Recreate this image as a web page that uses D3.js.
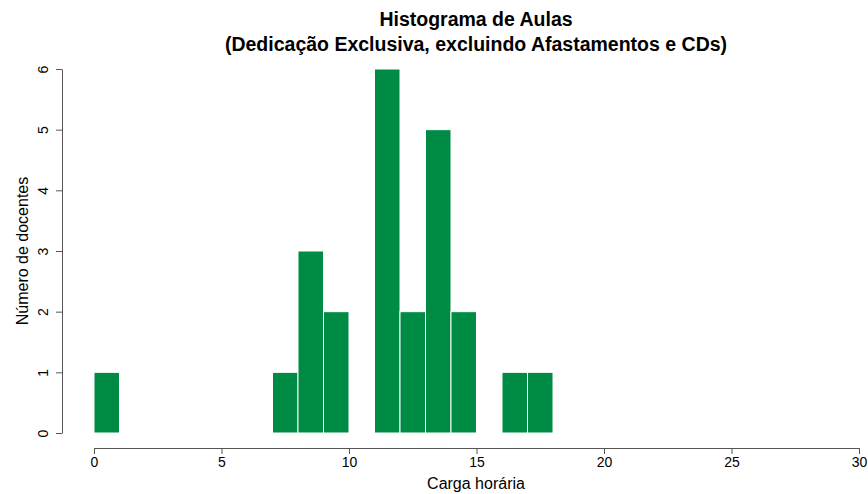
<!DOCTYPE html>
<html>
<head>
<meta charset="utf-8">
<script src="https://cdn.jsdelivr.net/npm/d3@7"></script>
<style>
  body { margin: 0; background: #fff; }
  text { font-family: "Liberation Sans", Arial, sans-serif; fill: #000; }
</style>
</head>
<body>
<div id="chart"></div>
<script>
// Histogram bins (lower edge, upper edge) and counts
const binStart = [0, 7, 8, 9, 11, 12, 13, 14, 16, 17];
const binEnd   = [1, 8, 9, 10, 12, 13, 14, 15, 17, 18];
const counts   = [1, 1, 3, 2, 6, 2, 5, 2, 1, 1];
const xTicks = [0, 5, 10, 15, 20, 25, 30];
const yTicks = [0, 1, 2, 3, 4, 5, 6];

const W = 868, H = 494;
const svg = d3.select("#chart").append("svg")
    .attr("width", W)
    .attr("height", H);

const x = d3.scaleLinear().domain([0, 30]).range([94, 859]);
const y = d3.scaleLinear().domain([0, 6]).range([433, 69]);

const bins = binStart.map((s, i) => ({ x0: s, x1: binEnd[i], n: counts[i] }));

// bars with white border like R hist(border="white")
svg.selectAll(".bar")
    .data(bins)
    .enter()
    .append("rect")
    .attr("class", "bar")
    .attr("x", d => x(d.x0))
    .attr("y", d => y(d.n))
    .attr("width", d => x(d.x1) - x(d.x0))
    .attr("height", d => y(0) - y(d.n))
    .attr("fill", "#008B45")
    .attr("stroke", "#ffffff")
    .attr("stroke-width", 1);

// x axis
const xAxis = svg.append("g")
    .attr("transform", "translate(0,448)")
    .call(d3.axisBottom(x).tickValues(xTicks).tickFormat(d3.format("d"))
        .tickSize(6).tickSizeOuter(0).tickPadding(3));
xAxis.selectAll("text").style("font-size", "14px");
xAxis.selectAll("path, line").attr("stroke", "#555");

// y axis, labels rotated as in R
const yAxis = svg.append("g")
    .attr("transform", "translate(62,0)")
    .call(d3.axisLeft(y).tickValues(yTicks).tickFormat(d3.format("d"))
        .tickSize(6).tickSizeOuter(0));
yAxis.selectAll("path, line").attr("stroke", "#555");
yAxis.selectAll("text")
    .style("font-size", "14px")
    .attr("x", null)
    .attr("dy", null)
    .attr("text-anchor", "middle")
    .attr("transform", "translate(-14,0) rotate(-90)");

// titles
svg.append("text")
    .attr("x", 476).attr("y", 26)
    .attr("text-anchor", "middle")
    .style("font-size", "19.5px").style("font-weight", "bold")
    .text("Histograma de Aulas");
svg.append("text")
    .attr("x", 476).attr("y", 51)
    .attr("text-anchor", "middle")
    .style("font-size", "19.5px").style("font-weight", "bold")
    .text("(Dedicação Exclusiva, excluindo Afastamentos e CDs)");

svg.append("text")
    .attr("x", 476).attr("y", 489)
    .attr("text-anchor", "middle")
    .style("font-size", "16px")
    .text("Carga horária");

svg.append("text")
    .attr("transform", "translate(28,251) rotate(-90)")
    .attr("text-anchor", "middle")
    .style("font-size", "16px")
    .text("Número de docentes");
</script>
</body>
</html>
